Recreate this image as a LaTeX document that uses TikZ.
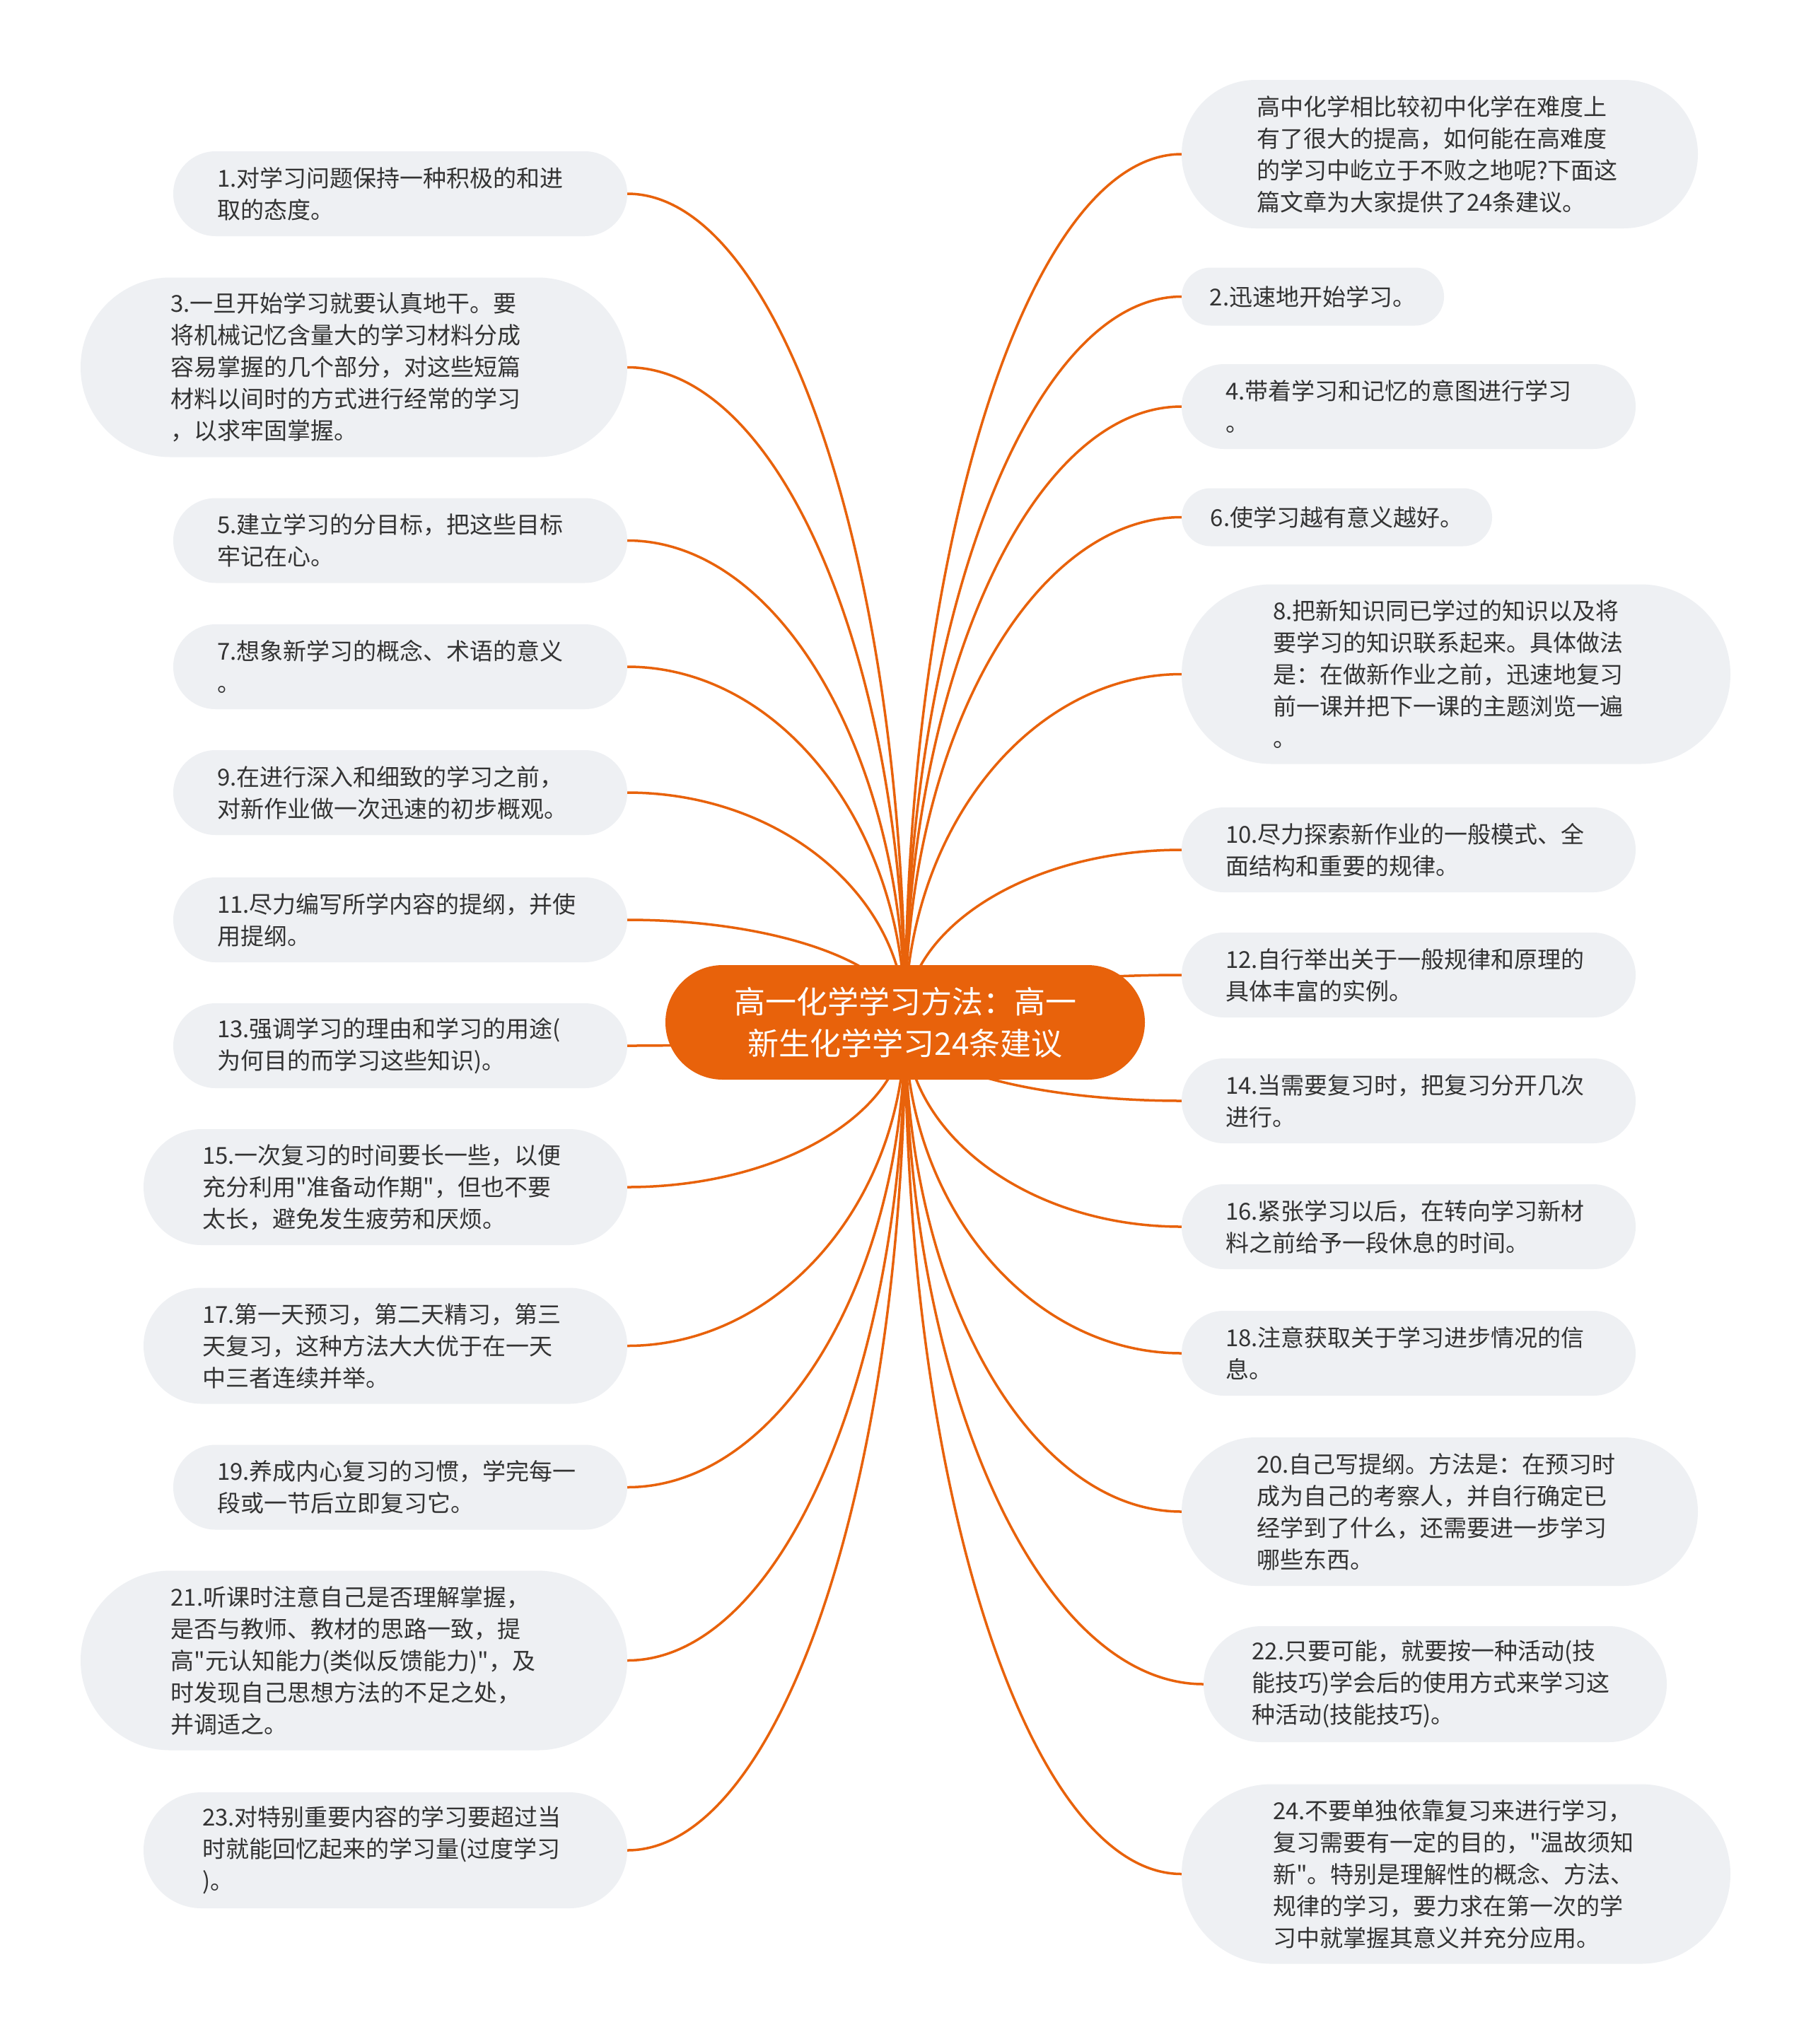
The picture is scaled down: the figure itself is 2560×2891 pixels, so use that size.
\documentclass[tikz,border=0pt]{standalone}
\usepackage{fontspec}
\newfontfamily\cjkf{Noto Sans CJK SC}
\usetikzlibrary{shapes.misc,calc,backgrounds}
\definecolor{orangeM}{HTML}{E8620B}
\definecolor{boxfill}{HTML}{EEF0F3}
\definecolor{txt}{HTML}{333333}
\tikzset{
  box/.style={shape=rounded rectangle, fill=boxfill, text=txt, align=left, inner sep=0pt,
    text width=518pt, font=\cjkf\fontsize{33}{45}\selectfont},
  onebox/.style={shape=rounded rectangle, fill=boxfill, text=txt, align=left, inner sep=0pt,
    font=\cjkf\fontsize{33}{45}\selectfont},
  rootbox/.style={shape=rounded rectangle, fill=orangeM, text=white, align=center, inner sep=0pt,
    minimum width=678pt, minimum height=162pt, font=\cjkf\fontsize{44}{59}\selectfont},
  branch/.style={to path={let \p1=(\tikztostart), \p2=(\tikztotarget) in
    .. controls (\x1,{\y1+0.55*(\y2-\y1)}) and ({\x2+0.55*(\x1-\x2)},\y2) .. (\tikztotarget)}},
  link/.style={draw=orangeM, line width=3.5pt, branch},
  h1/.style={minimum height=82pt},
  h2/.style={minimum height=120pt},
  h3/.style={minimum height=164pt},
  h4/.style={minimum height=210pt},
  h5/.style={minimum height=254pt}
}
\begin{document}
\begin{tikzpicture}[x=1pt,y=-1pt]
\useasboundingbox (0,0) rectangle (2560,2891);

\node[rootbox] (root) at (1280,1446) {高一化学学习方法：高一\\新生化学学习24条建议};

% left column
\node[box,h2,minimum width=642pt] (L1) at (566,274) {1.对学习问题保持一种积极的和进\\取的态度。};
\node[box,h5,minimum width=773pt] (L3) at (500.5,519.5) {3.一旦开始学习就要认真地干。要\\将机械记忆含量大的学习材料分成\\容易掌握的几个部分，对这些短篇\\材料以间时的方式进行经常的学习\\，以求牢固掌握。};
\node[box,h2,minimum width=642pt] (L5) at (566,764.5) {5.建立学习的分目标，把这些目标\\牢记在心。};
\node[box,h2,minimum width=642pt] (L7) at (566,943) {7.想象新学习的概念、术语的意义\\。};
\node[box,h2,minimum width=642pt] (L9) at (566,1121) {9.在进行深入和细致的学习之前，\\对新作业做一次迅速的初步概观。};
\node[box,h2,minimum width=642pt] (L11) at (566,1301) {11.尽力编写所学内容的提纲，并使\\用提纲。};
\node[box,h2,minimum width=642pt] (L13) at (566,1479) {13.强调学习的理由和学习的用途(\\为何目的而学习这些知识)。};
\node[box,h3,minimum width=684pt] (L15) at (545,1679) {15.一次复习的时间要长一些，以便\\充分利用"准备动作期"，但也不要\\太长，避免发生疲劳和厌烦。};
\node[box,h3,minimum width=684pt] (L17) at (545,1903.5) {17.第一天预习，第二天精习，第三\\天复习，这种方法大大优于在一天\\中三者连续并举。};
\node[box,h2,minimum width=642pt] (L19) at (566,2103.5) {19.养成内心复习的习惯，学完每一\\段或一节后立即复习它。};
\node[box,h5,minimum width=773pt] (L21) at (500.5,2348.5) {21.听课时注意自己是否理解掌握，\\是否与教师、教材的思路一致，提\\高"元认知能力(类似反馈能力)"，及\\时发现自己思想方法的不足之处，\\并调适之。};
\node[box,h3,minimum width=684pt] (L23) at (545,2617) {23.对特别重要内容的学习要超过当\\时就能回忆起来的学习量(过度学习\\)。};

% right column
\node[box,h4,minimum width=730pt] (R0) at (2036,218) {高中化学相比较初中化学在难度上\\有了很大的提高，如何能在高难度\\的学习中屹立于不败之地呢?下面这\\篇文章为大家提供了24条建议。};
\node[onebox,h1,minimum width=371pt] (R2) at (1856.5,419.5) {2.迅速地开始学习。};
\node[box,h2,minimum width=642pt] (R4) at (1992,575) {4.带着学习和记忆的意图进行学习\\。};
\node[onebox,h1,minimum width=439pt] (R6) at (1890.5,731.5) {6.使学习越有意义越好。};
\node[box,h5,minimum width=776pt] (R8) at (2059,953.5) {8.把新知识同已学过的知识以及将\\要学习的知识联系起来。具体做法\\是：在做新作业之前，迅速地复习\\前一课并把下一课的主题浏览一遍\\。};
\node[box,h2,minimum width=642pt] (R10) at (1992,1202) {10.尽力探索新作业的一般模式、全\\面结构和重要的规律。};
\node[box,h2,minimum width=642pt] (R12) at (1992,1379) {12.自行举出关于一般规律和原理的\\具体丰富的实例。};
\node[box,h2,minimum width=642pt] (R14) at (1992,1557) {14.当需要复习时，把复习分开几次\\进行。};
\node[box,h2,minimum width=642pt] (R16) at (1992,1735) {16.紧张学习以后，在转向学习新材\\料之前给予一段休息的时间。};
\node[box,h2,minimum width=642pt] (R18) at (1992,1914) {18.注意获取关于学习进步情况的信\\息。};
\node[box,h4,minimum width=730pt] (R20) at (2036,2138) {20.自己写提纲。方法是：在预习时\\成为自己的考察人，并自行确定已\\经学到了什么，还需要进一步学习\\哪些东西。};
\node[box,h3,minimum width=655pt] (R22) at (2029.5,2382) {22.只要可能，就要按一种活动(技\\能技巧)学会后的使用方式来学习这\\种活动(技能技巧)。};
\node[box,h5,minimum width=776pt] (R24) at (2059,2650.5) {24.不要单独依靠复习来进行学习，\\复习需要有一定的目的，"温故须知\\新"。特别是理解性的概念、方法、\\规律的学习，要力求在第一次的学\\习中就掌握其意义并充分应用。};

\begin{scope}[on background layer]
\fill[white] (0,0) rectangle (2560,2891);
\foreach \nd in {L1,L3,L5,L7,L9,L11,L13,L15,L17,L19,L21,L23}
  \draw[link] (root.center) to (\nd.east);
\foreach \nd in {R0,R2,R4,R6,R8,R10,R12,R14,R16,R18,R20,R22,R24}
  \draw[link] (root.center) to (\nd.west);
\end{scope}
\end{tikzpicture}
\end{document}
